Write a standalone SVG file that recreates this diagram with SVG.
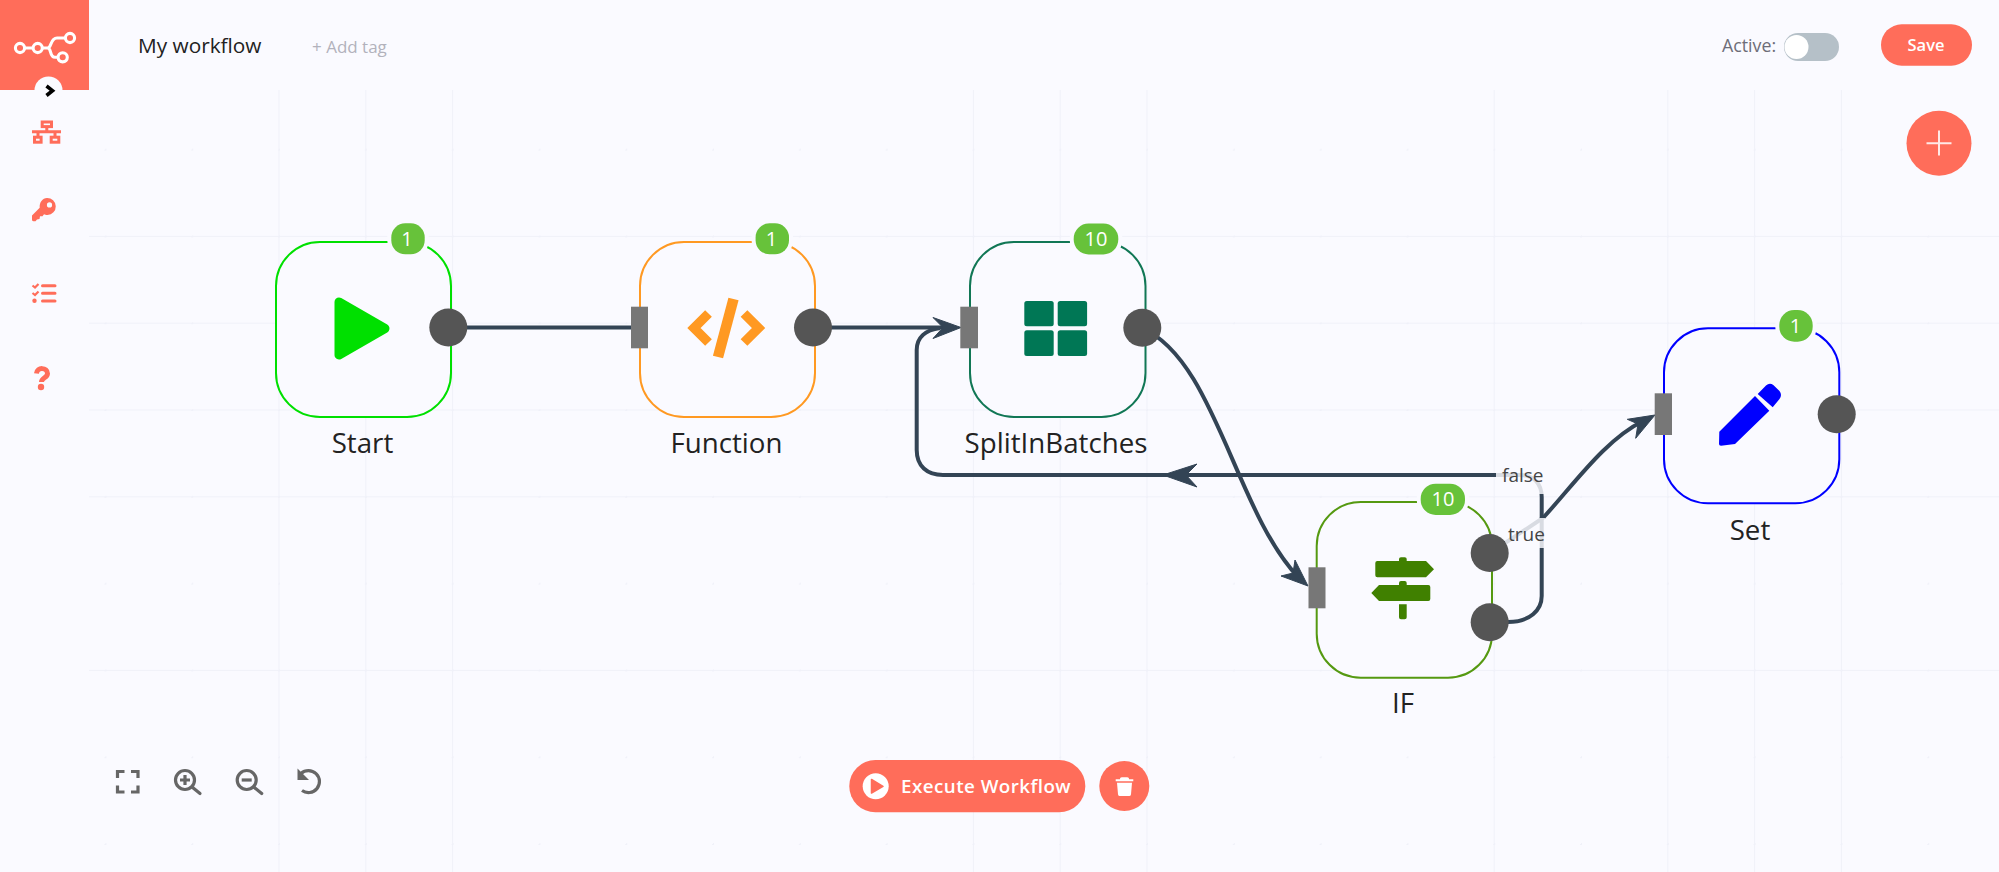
<svg xmlns="http://www.w3.org/2000/svg" width="1999" height="872" viewBox="0 0 1999 872">
<style>
text{font-family:"Open Sans","Noto Sans","Liberation Sans",sans-serif}
.gl{stroke:#f0f1f9;stroke-width:1;fill:none}
.node{fill:#fafaff;stroke-width:2}
.port{fill:#777}
.ep{fill:#555}
.badge{fill:#67c23a;stroke:#fafaff;stroke-width:8;paint-order:stroke}
.bt{fill:#fff;font-size:20px;text-anchor:middle}
.name{fill:#222;font-size:27.7px;text-anchor:middle}
.conn{fill:none;stroke:#334455;stroke-width:4}
.head{fill:#334455;stroke:#334455;stroke-width:1;stroke-linejoin:round}
.lblbg{fill:#fafaff;opacity:.83}
.lbl{fill:#444;font-size:19px}
.side{fill:none;stroke:#ff6d5a;stroke-width:3}
.tool{fill:none;stroke:#666;stroke-width:3.2}
.red{fill:#ff6d5a}
</style>
<defs>
<pattern id="dots" x="105.4" y="149.6" width="86.8" height="86.8" patternUnits="userSpaceOnUse"><rect x="-1" y="-1" width="2" height="2" fill="#f0f1f9"/><rect x="85.8" y="-1" width="1" height="2" fill="#f0f1f9"/><rect x="-1" y="85.8" width="2" height="1" fill="#f0f1f9"/></pattern>
</defs>
<rect width="1999" height="872" fill="#fafaff"/>
<g id="grid">
<rect x="89" y="90" width="1910" height="782" fill="url(#dots)"/>
<path class="gl" d="M89 236.4H1999M89 323.2H1999M89 410H1999M89 496.8H1999M89 670.4H1999"/>
<path class="gl" d="M279 90V872M365.8 90V872M452.6 90V872M973.4 90V872M1060.2 90V872M1147 90V872M1494.2 90V872M1667.8 90V872M1754.6 90V872M1841.4 90V872"/>
</g>
<g id="header">
<rect id="logo-bg" width="89" height="90" class="red"/>
<g id="logo" fill="none" stroke="#fff" stroke-width="3.1">
<circle cx="20" cy="48" r="4.6"/><circle cx="37.7" cy="48" r="4.6"/><circle cx="70" cy="38" r="4.6"/><circle cx="62.7" cy="57.3" r="4.6"/>
<path d="M24.6 48H33M42.3 48H47.5C52 48 50 38 57 38H65.4M47.5 48C52 48 49 57.3 55 57.3H58.1"/>
</g>
<circle cx="48.5" cy="90.5" r="14" fill="#fafaff"/>
<path d="M46.5 86L52.5 90.7L46.5 95.5" fill="none" stroke="#000" stroke-width="3.6"/>
<text x="138" y="53" font-size="20.8" fill="#222">My workflow</text>
<text x="312" y="53" font-size="17" fill="#b2b2bc">+ Add tag</text>
<text x="1722" y="51.5" font-size="17.8" fill="#6d6d78">Active:</text>
<rect x="1784" y="33" width="55" height="28" rx="14" fill="#b5c0c8"/>
<circle cx="1796.5" cy="47" r="12" fill="#fff"/>
<rect x="1881" y="24.3" width="91" height="41.4" rx="20.7" class="red"/>
<text x="1926" y="51" font-size="16.5" font-weight="600" fill="#fff" text-anchor="middle">Save</text>
<circle cx="1939" cy="143.3" r="32.5" class="red"/>
<path d="M1939 130.5V155.5M1926.5 143.3H1951.5" stroke="#fff" stroke-opacity=".85" stroke-width="2" fill="none"/>
</g>
<g id="sidebar">
<g id="icon-network" class="side" stroke-width="2.4">
<rect x="42.2" y="122" width="9.3" height="4.6"/><rect x="34.5" y="137.2" width="6.6" height="5"/><rect x="51.2" y="137.2" width="7.6" height="5"/>
<path d="M46.8 126.6V131.7M32 131.7H61M38 131.7V137.2M55 131.7V137.2"/>
</g>
<g id="icon-key">
<path class="red" fill-rule="evenodd" d="M47 198A8.5 8.5 0 0 1 47.5 215C45.8 215 45 214.8 44 214.3L42.5 216.3H40L39.5 219L37 219.5L35.5 221.3H33.5C32 221.3 32 220 32 219V215.5L39.7 207.8C39.3 202.5 42.5 198 47 198ZM49.5 202.3A2.6 2.6 0 1 0 49.5 207.5A2.6 2.6 0 1 0 49.5 202.3Z"/>
</g>
<g id="icon-tasks" class="side">
<path d="M42.5 285.7H55M42.5 293.3H55M42.5 301H55" stroke-linecap="round"/>
<path d="M32.5 285.5L35 287.5L38.5 284M32.5 293L35 295L38.5 291.5" stroke-width="2.2"/>
<circle cx="34.5" cy="300.8" r="2.2" fill="#ff6d5a" stroke="none"/>
</g>
<g id="icon-help">
<path d="M36.5 373.5C37 366.5 47.5 367.5 47.5 373.5C47.5 378 41.5 377.5 41.5 382" fill="none" stroke="#ff6d5a" stroke-width="5"/>
<circle cx="41" cy="387" r="3.2" class="red"/>
</g>
</g>
<g id="connectors">
<path class="conn" d="M449 327.5H632"/>
<path class="conn" d="M813 327.5H945"/>
<path class="head" d="M961 327.5L933 317.5L943 327.5L933 338.5Z"/>
<path class="conn" d="M1142 328C1215 360 1235 510 1298 577"/>
<path class="head" d="M1308 586L1281 576L1293 573L1295 560Z"/>
<path class="conn" d="M1490 622H1508C1530 622 1541.7 610 1541.7 596V497C1541.7 484 1534 475 1520 475H943C927 475 916.7 466 916.7 450V350C916.7 338 925 330 940 328"/>
<path class="head" d="M1163 475L1197 464L1186 475L1197 487Z"/>
<path class="conn" d="M1490 553L1543 518C1575 483 1605 440 1643 421"/>
<path class="head" d="M1655 415L1627.3 419.3L1638 424L1635.7 438.3Z"/>
<rect class="lblbg" x="1496" y="462" width="49" height="32"/>
<rect class="lblbg" x="1505" y="518" width="40" height="30"/>
<text class="lbl" x="1502" y="482">false</text>
<text class="lbl" x="1508" y="541">true</text>
</g>
<g id="node-start">
<rect class="node" x="276" y="242" width="175" height="175" rx="44" stroke="#00e000"/>
<path d="M339 302L385 328.5L339 355Z" fill="#00e000" stroke="#00e000" stroke-width="9" stroke-linejoin="round"/>
<rect class="badge" x="391.3" y="223.3" width="33.4" height="31" rx="14"/><text class="bt" x="407" y="246">1</text>
<circle class="ep" cx="448.3" cy="327.5" r="19"/>
<text class="name" x="362.5" y="453">Start</text>
</g>
<g id="node-function">
<rect class="node" x="640" y="242" width="175" height="175" rx="44" stroke="#ff9922"/>
<path d="M708.5 313.5L694 328L708.5 342.5M744 313.5L758.5 328L744 342.5" fill="none" stroke="#ff9922" stroke-width="9.5"/>
<path d="M733.5 299L718 357" fill="none" stroke="#ff9922" stroke-width="10.5"/>
<rect class="badge" x="755.6" y="223.3" width="33.4" height="31" rx="14"/><text class="bt" x="771.5" y="246">1</text>
<rect class="port" x="631" y="306.7" width="17" height="41.6"/>
<circle class="ep" cx="813" cy="327.5" r="19"/>
<text class="name" x="726.5" y="453">Function</text>
</g>
<g id="node-splitinbatches">
<rect class="node" x="970" y="242" width="175.5" height="175" rx="44" stroke="#117755"/>
<g fill="#007755"><rect x="1024.3" y="301" width="29.4" height="25.3" rx="2.5"/><rect x="1057.7" y="301" width="29.4" height="25.3" rx="2.5"/><rect x="1024.3" y="330.3" width="29.4" height="25.7" rx="2.5"/><rect x="1057.7" y="330.3" width="29.4" height="25.7" rx="2.5"/></g>
<rect class="badge" x="1073.7" y="223.5" width="44.6" height="31" rx="15"/><text class="bt" x="1096" y="246">10</text>
<rect class="port" x="960.3" y="306.7" width="17.7" height="41.6"/>
<circle class="ep" cx="1142.3" cy="327.7" r="19"/>
<text class="name" x="1056" y="453">SplitInBatches</text>
</g>
<g id="node-if">
<rect class="node" x="1316.7" y="502" width="175.3" height="175.7" rx="44" stroke="#559911"/>
<path fill="#408000" d="M1399 561V559Q1399 557.3 1401 557.3H1404.7Q1406.7 557.3 1406.7 559V561H1426L1434 569.2L1426 577.3H1377.3Q1375.3 577.3 1375.3 575.3V563Q1375.3 561 1377.3 561ZM1399 585V583Q1399 581 1401 581H1404.7Q1406.7 581 1406.7 583V585H1428.3Q1430.3 585 1430.3 587V599Q1430.3 601 1428.3 601H1379L1371.3 593L1379 585ZM1399 604.3H1406.7V617.3Q1406.7 619.3 1404.7 619.3H1401Q1399 619.3 1399 617.3Z"/>
<rect class="badge" x="1420.7" y="483.7" width="44.3" height="31.3" rx="15"/><text class="bt" x="1443" y="506">10</text>
<rect class="port" x="1308.5" y="567.3" width="17" height="41"/>
<circle class="ep" cx="1489.7" cy="553" r="19"/>
<circle class="ep" cx="1489.7" cy="622.3" r="19"/>
<text class="name" x="1403" y="713">IF</text>
</g>
<g id="node-set">
<rect class="node" x="1664" y="328.3" width="175.3" height="175" rx="44" stroke="#0000ff"/>
<path fill="#0000ff" d="M1719.3 431.7L1755 396L1769.3 410.7L1735 444L1721 445.7Q1719 445.7 1719 444ZM1757.7 394L1766 385.5Q1769.5 382.5 1773.3 385L1779.5 391Q1782.5 395 1779.5 399L1772.7 407.3Z"/>
<rect class="badge" x="1779.3" y="310" width="33.4" height="31.7" rx="15"/><text class="bt" x="1795.5" y="333">1</text>
<rect class="port" x="1654.7" y="393.3" width="17.3" height="41.7"/>
<circle class="ep" cx="1836.7" cy="414.3" r="19"/>
<text class="name" x="1750" y="540">Set</text>
</g>
<g id="zoom-tools">
<path class="tool" d="M117.5 778V771.5H124.5M131 771.5H138V778M138 785.5V792H131M124.5 792H117.5V785.5"/>
<circle class="tool" cx="185" cy="780" r="9.5"/><path class="tool" d="M192 787L200 793.5" stroke-width="4" stroke-linecap="round"/><path class="tool" d="M180 780H190M185 775V785" stroke-width="2.6"/>
<circle class="tool" cx="246.7" cy="780" r="9.5"/><path class="tool" d="M253.7 787L261.7 793.5" stroke-width="4" stroke-linecap="round"/><path class="tool" d="M241.7 780H251.7" stroke-width="2.6"/>
<path class="tool" d="M301 773.5A11 11 0 1 1 302 790.5"/><path d="M297.5 768.5V780H309Z" fill="#666"/>
</g>
<g id="actions">
<rect x="849.3" y="760" width="236" height="52.3" rx="26.1" class="red"/>
<circle cx="875.7" cy="786.3" r="13" fill="#fff"/>
<path d="M871.5 779.5L883 786.3L871.5 793Z" fill="#ff6d5a" stroke="#ff6d5a" stroke-width="1.5" stroke-linejoin="round"/>
<text x="901" y="793.3" font-size="18.8" font-weight="600" letter-spacing=".45" fill="#fff">Execute Workflow</text>
<circle cx="1124.3" cy="786" r="25" class="red"/>
<path fill="#fff" d="M1115.7 779.3H1120V778.5Q1120.5 777.3 1122 777.3H1127Q1128.5 777.3 1129 778.5V779.3H1133.3V781.3H1115.7ZM1117 782.8H1132L1131 794.3Q1131 796 1129.5 796H1119.5Q1118 796 1118 794.3Z"/>
</g>
</svg>
